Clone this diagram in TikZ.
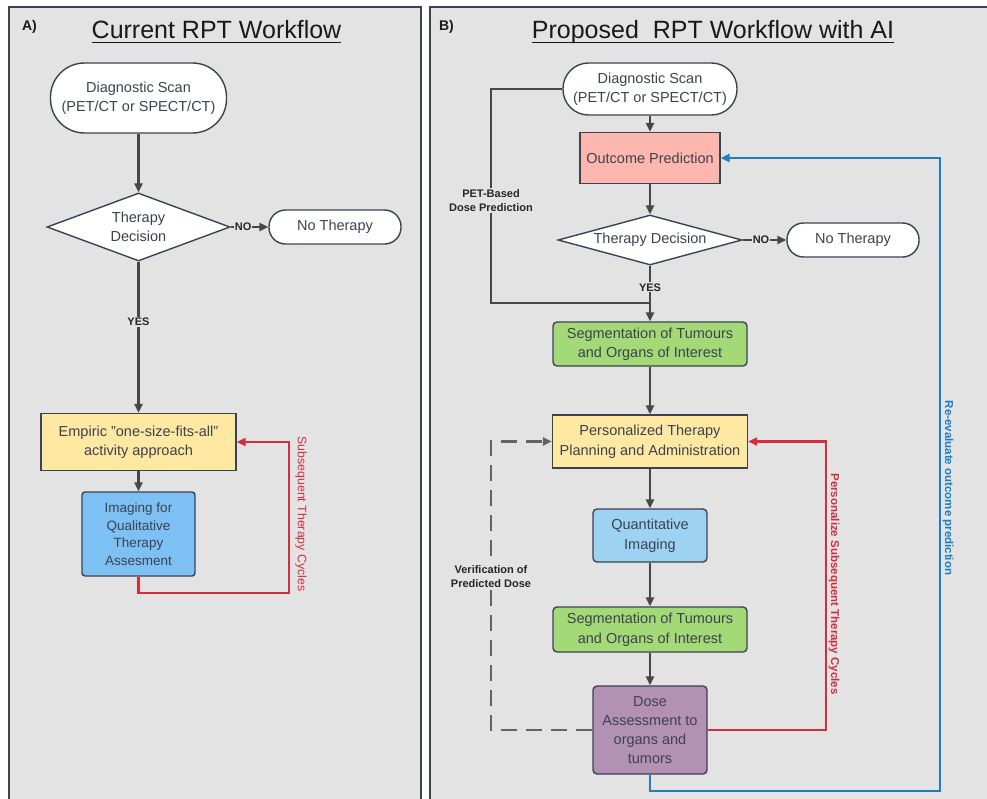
\documentclass[tikz,border=0pt]{standalone}
\usepackage{fontspec}
\setmainfont{Liberation Sans}
\usetikzlibrary{arrows.meta,shapes.geometric}
\definecolor{panelbg}{HTML}{E3E3E3}
\definecolor{bordc}{HTML}{3C4350}
\definecolor{txt}{HTML}{3D4250}
\definecolor{arrc}{HTML}{474747}
\definecolor{yel}{HTML}{FEE8A2}
\definecolor{bluA}{HTML}{7CC0F4}
\definecolor{salm}{HTML}{FDB7AF}
\definecolor{grn}{HTML}{A3D977}
\definecolor{lblu}{HTML}{9DD2F3}
\definecolor{purp}{HTML}{B391B5}
\definecolor{redc}{HTML}{D0303E}
\definecolor{bluec}{HTML}{1B7FC2}
\begin{document}
\begin{tikzpicture}[x=1pt,y=-1pt,
  box/.style={draw=bordc, line width=1.4pt, text=txt, align=center, inner sep=0pt,
    font=\fontsize{14.5}{19.5}\selectfont},
  dia/.style={box, shape=diamond, fill=white, aspect=2.7},
  arr/.style={draw=arrc, line width=2.4pt, -{Triangle[length=9pt,width=8pt]}},
  plainline/.style={draw=arrc, line width=2.4pt},
  dasharr/.style={draw=arrc!85, line width=2.2pt, dash pattern=on 16pt off 9pt, -{Triangle[length=9pt,width=8pt]}},
  redarr/.style={draw=redc, line width=2.2pt, -{Triangle[length=9pt,width=8pt]}},
  bluearr/.style={draw=bluec, line width=2.7pt, -{Triangle[length=9pt,width=8pt]}},
  lbl/.style={font=\fontsize{11}{14}\selectfont\bfseries, text=black!85, fill=panelbg, inner sep=1pt, align=center},
  titlef/.style={font=\fontsize{25}{28}\selectfont, text=black!90, inner sep=0pt, anchor=base},
  panel/.style={draw=bordc, line width=2pt, fill=panelbg}
]
\useasboundingbox (0,0) rectangle (987,798);
\clip (0,0) rectangle (987,798);
\fill[white] (0,0) rectangle (987,798);
\draw[panel] (9,7) rectangle (421,812);
\draw[panel] (430,7) rectangle (1000,812);

% titles
\node[font=\fontsize{14}{16}\selectfont\bfseries, text=black!90] (labA) at (29.5,27) {A)};
\node[titlef] (tA) at (216.5,38) {Current RPT Workflow};
\draw[black!90, line width=1pt] ([yshift=-4.5pt]tA.base west) -- ([yshift=-4.5pt]tA.base east);
\node[font=\fontsize{14}{16}\selectfont\bfseries, text=black!90] (labB) at (446.5,27) {B)};
\node[titlef] (tB) at (713,38) {Proposed\ \ RPT Workflow with AI};
\draw[black!90, line width=1pt] ([yshift=-4.5pt]tB.base west) -- ([yshift=-4.5pt]tB.base east);

% ---------- Panel A ----------
\node[box, fill=white, rounded corners=34pt, minimum width=176pt, minimum height=70pt] (scanA) at (138.5,98) {Diagnostic Scan\\(PET/CT or SPECT/CT)};
\node[dia, minimum width=183pt, minimum height=68pt] (decA) at (138.5,227) {Therapy\\Decision};
\node[box, fill=white, rounded corners=16.5pt, minimum width=132pt, minimum height=34pt] (noA) at (335,227) {No Therapy};
\node[box, fill=yel, minimum width=195pt, minimum height=57pt] (empA) at (138.5,442) {Empiric "one-size-fits-all"\\activity approach};
\node[box, fill=bluA, rounded corners=3pt, minimum width=113pt, minimum height=84pt, font=\fontsize{13.5}{17.5}\selectfont] (imgA) at (138.5,534) {Imaging for\\Qualitative\\Therapy\\Assesment};

\draw[arr] (scanA) -- (decA);
\draw[arr] (decA) -- node[lbl, pos=0.33]{NO} (noA);
\draw[arr] (decA) -- node[lbl, pos=0.4]{YES} (empA);
\draw[arr] (empA) -- (imgA);
\coordinate (rA) at (289,593);
\draw[redarr] (imgA.south) |- (rA) |- (empA.east);
\node[text=redc, rotate=-90, font=\fontsize{12.3}{14}\selectfont, inner sep=0pt] (subA) at (301,514) {Subsequent Therapy Cycles};

% ---------- Panel B ----------
\node[box, fill=white, rounded corners=25.5pt, minimum width=174pt, minimum height=52pt] (scanB) at (650,89) {Diagnostic Scan\\(PET/CT or SPECT/CT)};
\node[box, fill=salm, minimum width=140pt, minimum height=51pt] (outB) at (650,158) {Outcome Prediction};
\node[dia, minimum width=184pt, minimum height=50pt, aspect=3.6] (decB) at (650,240) {Therapy Decision};
\node[box, fill=white, rounded corners=16.5pt, minimum width=132pt, minimum height=34pt] (noB) at (853,240) {No Therapy};
\node[box, fill=grn, rounded corners=4pt, minimum width=194pt, minimum height=44pt] (seg1) at (650,344) {Segmentation of Tumours\\and Organs of Interest};
\node[box, fill=yel, minimum width=195pt, minimum height=53pt] (persB) at (650,441.5) {Personalized Therapy\\Planning and Administration};
\node[box, fill=lblu, rounded corners=4pt, minimum width=114pt, minimum height=53pt] (quant) at (650,535.5) {Quantitative\\Imaging};
\node[box, fill=grn, rounded corners=4pt, minimum width=194pt, minimum height=45pt] (seg2) at (650,629.5) {Segmentation of Tumours\\and Organs of Interest};
\node[box, fill=purp, rounded corners=4pt, minimum width=114pt, minimum height=88pt, font=\fontsize{14.5}{19}\selectfont] (dose) at (650,730) {Dose\\Assessment to\\organs and\\tumors};

\draw[arr] (scanB) -- (outB);
\draw[arr] (outB) -- (decB);
\draw[arr] (decB) -- node[lbl, pos=0.42]{NO} (noB);
\coordinate (petc) at (491,303);
\draw[plainline] (scanB.west) -| (petc) -- (petc -| seg1.north);
\node[lbl] (petl) at (491,200.5) {PET-Based\\Dose Prediction};
\draw[arr] (decB) -- node[lbl, pos=0.39]{YES} (seg1);
\draw[arr] (seg1) -- (persB);
\draw[arr] (persB) -- (quant);
\draw[arr] (quant) -- (seg2);
\draw[arr] (seg2) -- (dose);
\coordinate (vd) at (491,730);
\draw[dasharr] (dose.west) -- (vd) |- (persB.west);
\node[lbl] (verl) at (491,576.5) {Verification of\\Predicted Dose};
\coordinate (rB) at (826,730);
\draw[redarr] (dose.east) -- (rB) |- (persB.east);
\node[text=redc, rotate=-90, font=\fontsize{11.5}{14}\selectfont\bfseries, inner sep=0pt] (subB) at (834,584) {Personalize Subsequent Therapy Cycles};
\coordinate (bB) at (940,791);
\draw[bluearr] (dose.south) |- (bB) |- (outB.east);
\node[text=bluec, rotate=-90, font=\fontsize{11.5}{14}\selectfont\bfseries, inner sep=0pt] (reB) at (948,488) {Re-evaluate outcome prediction};
\end{tikzpicture}
\end{document}
